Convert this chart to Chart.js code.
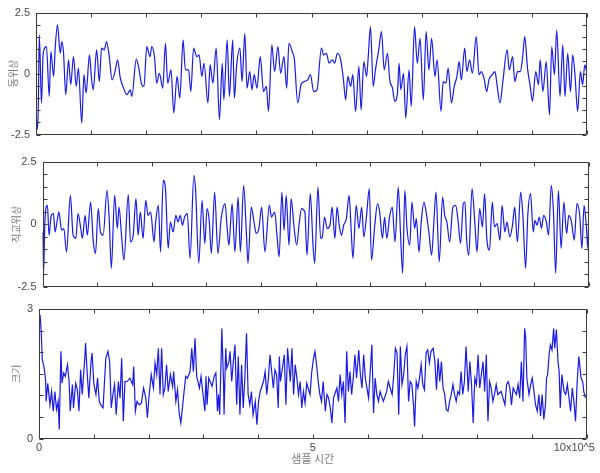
<!DOCTYPE html>
<html>
<head>
<meta charset="utf-8">
<script src="https://cdn.jsdelivr.net/npm/chart.js@4.4.0/dist/chart.umd.min.js"></script>
<style>
    html, body { margin: 0; padding: 0; background: #fff; }
    #wrap { position: relative; width: 600px; height: 473px; }
    #wrap canvas { position: absolute; left: 0; top: 0; }
</style>
</head>
<body>
<div id="wrap">
    <canvas id="inPhaseChart" width="600" height="473"></canvas>
    <canvas id="quadChart" width="600" height="473"></canvas>
    <canvas id="magChart" width="600" height="473"></canvas>
</div>
<script>
// x in units of 10^5 samples, y = signal value
const inPhase = [[0,-1.2],[0.02,-2.3],[0.04,-1.6],[0.06,1.58],[0.10,-1.21],[0.13,0.83],[0.19,1.10],[0.24,-0.94],[0.27,0.90],[0.32,-0.12],[0.35,1.10],[0.39,1.99],[0.44,0.83],[0.47,1.31],[0.50,0.83],[0.54,-0.87],[0.59,0.56],[0.63,-0.46],[0.68,0.69],[0.73,-0.53],[0.77,0.22],[0.83,-2.03],[0.87,-0.05],[0.91,-0.80],[0.97,0.76],[1.01,-0.26],[1.04,-0.67],[1.10,0.97],[1.15,-0.33],[1.19,1.04],[1.24,0.97],[1.28,1.31],[1.33,0.69],[1.38,-0.26],[1.44,0.15],[1.48,0.56],[1.53,-0.19],[1.59,-0.60],[1.65,-0.87],[1.71,-0.67],[1.74,-0.94],[1.82,0.59],[1.86,0.29],[1.92,-0.46],[1.96,-0.53],[2.01,1.10],[2.07,0.69],[2.10,1.10],[2.15,0.69],[2.19,-0.40],[2.24,0.01],[2.30,-0.60],[2.35,1.24],[2.39,-0.40],[2.45,0.15],[2.50,-1.62],[2.56,-0.12],[2.61,-1.01],[2.67,1.38],[2.71,0.15],[2.77,0.15],[2.81,-0.74],[2.86,1.04],[2.92,0.69],[2.96,0.76],[3.01,-0.12],[3.05,0.42],[3.12,-1.21],[3.16,0.35],[3.21,-0.40],[3.27,1.04],[3.33,-1.89],[3.38,0.42],[3.41,-1.08],[3.47,1.38],[3.51,-0.94],[3.57,1.38],[3.60,-1.01],[3.64,0.29],[3.70,1.04],[3.74,-0.33],[3.79,1.65],[3.83,-0.60],[3.88,0.08],[3.92,-0.67],[3.96,-0.05],[4.01,-0.60],[4.07,0.69],[4.13,-0.74],[4.18,-0.53],[4.22,-1.55],[4.28,1.17],[4.33,0.08],[4.39,1.10],[4.44,0.01],[4.50,0.69],[4.55,-0.60],[4.59,1.24],[4.65,0.90],[4.69,0.56],[4.75,-1.21],[4.81,-0.46],[4.87,-0.33],[4.93,-0.26],[4.98,-0.05],[5.04,-0.74],[5.10,-0.67],[5.18,1.04],[5.22,0.76],[5.27,0.83],[5.32,0.42],[5.38,0.56],[5.42,0.42],[5.47,0.83],[5.53,0.56],[5.58,-0.26],[5.62,-1.08],[5.66,-0.12],[5.71,-0.53],[5.75,-0.05],[5.80,-1.55],[5.86,0.29],[5.90,-1.49],[5.95,0.49],[6.00,-0.12],[6.03,0.69],[6.07,1.92],[6.12,-0.53],[6.16,0.15],[6.22,0.97],[6.27,1.72],[6.32,0.15],[6.38,0.83],[6.42,-0.26],[6.47,-0.60],[6.51,-1.14],[6.56,-0.80],[6.59,0.42],[6.62,-0.67],[6.67,0.01],[6.71,-1.83],[6.77,0.15],[6.81,-1.35],[6.87,1.92],[6.92,0.42],[6.97,1.44],[7.03,-1.08],[7.08,1.72],[7.13,0.15],[7.18,1.44],[7.24,-0.12],[7.28,0.56],[7.35,-1.55],[7.39,-0.33],[7.44,-0.40],[7.48,0.22],[7.54,-1.21],[7.59,-0.53],[7.64,-0.12],[7.68,0.49],[7.72,-0.26],[7.78,1.04],[7.82,0.08],[7.87,0.56],[7.92,0.01],[7.99,1.51],[8.04,-0.05],[8.08,0.08],[8.13,-0.19],[8.18,-0.74],[8.22,-0.26],[8.28,-0.05],[8.33,0.08],[8.36,-0.33],[8.42,-1.21],[8.47,-0.40],[8.55,0.97],[8.59,0.15],[8.65,0.69],[8.69,-0.33],[8.74,0.08],[8.79,0.08],[8.83,0.63],[8.87,1.51],[8.92,0.22],[8.97,-0.53],[9.01,-1.14],[9.07,0.08],[9.12,-0.46],[9.15,0.56],[9.20,-0.74],[9.26,0.49],[9.32,-1.69],[9.36,1.10],[9.41,-0.05],[9.45,1.78],[9.51,-0.94],[9.56,1.17],[9.60,-0.94],[9.65,0.83],[9.70,-0.74],[9.74,0.76],[9.78,0.01],[9.83,-1.55],[9.88,0.08],[9.92,-0.46],[9.96,0.35],[10.0,0.01]];

const quadrature = [[0,-0.31],[0.02,-1.97],[0.04,-0.17],[0.06,0.63],[0.09,0.76],[0.12,-0.44],[0.16,0.36],[0.20,0.43],[0.23,-0.31],[0.27,0.16],[0.30,0.49],[0.35,-0.24],[0.39,-0.17],[0.44,-1.11],[0.51,1.16],[0.56,-0.44],[0.61,-0.57],[0.65,0.43],[0.70,-0.17],[0.73,-0.57],[0.78,0.36],[0.82,-0.44],[0.88,0.89],[0.93,-0.71],[0.97,-1.17],[1.02,0.63],[1.06,-0.31],[1.11,-0.44],[1.18,1.36],[1.22,0.23],[1.26,-1.77],[1.32,1.16],[1.37,-0.17],[1.40,0.69],[1.45,-0.57],[1.49,-1.44],[1.57,1.19],[1.61,-0.71],[1.66,-0.44],[1.71,1.03],[1.75,-0.44],[1.79,0.49],[1.84,-0.57],[1.89,0.96],[1.93,0.36],[1.98,0.49],[2.04,-0.71],[2.07,0.09],[2.12,0.76],[2.16,-1.11],[2.21,1.76],[2.25,1.43],[2.30,-0.97],[2.34,0.09],[2.39,-0.31],[2.44,0.36],[2.48,0.09],[2.52,0.36],[2.56,-0.04],[2.60,0.29],[2.65,0.43],[2.70,-1.37],[2.77,1.96],[2.80,1.43],[2.86,-1.57],[2.92,0.96],[2.97,-0.77],[3.01,0.63],[3.05,0.16],[3.09,-1.17],[3.15,1.29],[3.21,-1.17],[3.27,0.23],[3.34,0.83],[3.38,-0.17],[3.41,-0.84],[3.47,0.83],[3.52,-1.11],[3.58,1.09],[3.62,-1.11],[3.68,1.56],[3.73,-0.31],[3.76,-1.57],[3.82,0.69],[3.87,0.09],[3.91,-0.37],[3.96,-0.17],[4.01,0.69],[4.07,-1.11],[4.15,0.76],[4.19,0.29],[4.25,0.49],[4.29,-0.44],[4.33,-1.31],[4.38,1.29],[4.42,-0.24],[4.46,1.16],[4.51,-0.84],[4.55,1.03],[4.60,-0.04],[4.65,-0.84],[4.70,0.09],[4.74,0.63],[4.80,0.49],[4.84,-1.24],[4.90,1.23],[4.95,-0.84],[4.98,-1.57],[5.04,1.49],[5.09,-0.57],[5.12,-0.51],[5.16,0.29],[5.21,-0.17],[5.26,-0.04],[5.30,0.69],[5.35,-0.57],[5.39,0.69],[5.43,-0.04],[5.47,-0.44],[5.51,-0.04],[5.56,0.23],[5.61,1.16],[5.65,-0.31],[5.68,-1.37],[5.74,0.76],[5.79,-0.17],[5.84,0.69],[5.88,-0.51],[5.93,0.36],[5.98,1.43],[6.02,-1.44],[6.08,-0.04],[6.13,0.83],[6.17,0.49],[6.22,-0.57],[6.26,0.29],[6.30,-0.57],[6.35,0.29],[6.40,0.69],[6.45,-0.71],[6.51,1.49],[6.55,-0.31],[6.59,-1.97],[6.63,1.36],[6.67,-0.17],[6.72,-0.84],[6.76,0.89],[6.81,-0.17],[6.84,0.23],[6.89,-1.11],[6.93,0.09],[6.98,0.89],[7.02,0.49],[7.07,-0.31],[7.12,-1.24],[7.16,0.03],[7.20,1.29],[7.26,-1.51],[7.32,1.09],[7.36,0.36],[7.40,0.09],[7.45,-0.71],[7.51,0.69],[7.56,0.76],[7.60,0.23],[7.65,-0.77],[7.70,0.83],[7.73,0.89],[7.76,-0.57],[7.80,-1.24],[7.86,1.43],[7.91,0.09],[7.95,-1.11],[8.00,0.63],[8.05,-0.11],[8.09,1.23],[8.13,-0.57],[8.18,-1.04],[8.23,0.89],[8.27,-0.11],[8.32,0.03],[8.37,-0.64],[8.41,0.76],[8.46,-0.31],[8.50,0.09],[8.55,-0.51],[8.60,-0.04],[8.64,0.69],[8.69,-0.71],[8.75,1.29],[8.79,0.36],[8.84,-1.77],[8.88,0.36],[8.93,1.23],[8.98,-0.31],[9.01,0.16],[9.05,-0.04],[9.09,0.29],[9.13,-0.17],[9.17,0.36],[9.22,0.09],[9.26,-0.44],[9.31,1.56],[9.35,0.49],[9.39,-1.97],[9.44,1.36],[9.49,-0.97],[9.54,0.89],[9.59,-0.37],[9.63,0.36],[9.68,0.09],[9.73,-0.64],[9.78,0.83],[9.83,0.36],[9.87,-0.97],[9.91,0.76],[9.95,-0.04],[9.98,-0.97],[10.0,0.76]];

const magnitude = [[0,2.63],[0.02,2.86],[0.04,2.48],[0.06,1.82],[0.09,1.67],[0.12,1.36],[0.13,0.86],[0.16,1.28],[0.20,0.78],[0.23,1.09],[0.26,0.63],[0.29,1.09],[0.32,0.67],[0.35,0.86],[0.37,0.21],[0.40,2.02],[0.42,1.28],[0.45,1.52],[0.48,1.44],[0.52,1.71],[0.55,1.32],[0.57,0.63],[0.61,1.25],[0.63,0.71],[0.67,1.28],[0.70,1.13],[0.73,0.63],[0.76,1.59],[0.79,1.02],[0.84,1.94],[0.85,2.21],[0.88,1.52],[0.91,0.94],[0.95,1.78],[0.97,1.98],[1.00,1.28],[1.04,1.02],[1.07,1.40],[1.10,0.86],[1.13,0.78],[1.17,0.71],[1.22,1.86],[1.26,2.02],[1.29,1.78],[1.32,0.71],[1.35,1.02],[1.38,1.25],[1.41,0.55],[1.45,1.32],[1.48,0.94],[1.51,1.86],[1.54,0.40],[1.57,1.32],[1.61,1.32],[1.66,1.40],[1.71,1.25],[1.73,1.67],[1.76,0.63],[1.79,0.86],[1.83,0.78],[1.87,0.82],[1.91,1.17],[1.95,0.94],[1.98,0.48],[2.01,0.98],[2.05,1.48],[2.09,1.17],[2.12,1.75],[2.15,1.48],[2.18,2.09],[2.21,1.02],[2.24,2.09],[2.27,1.02],[2.30,1.17],[2.33,1.71],[2.36,1.09],[2.40,1.48],[2.44,1.21],[2.46,1.55],[2.50,0.86],[2.53,1.13],[2.56,0.59],[2.59,0.36],[2.62,0.71],[2.65,1.09],[2.68,1.44],[2.71,1.40],[2.76,1.55],[2.79,2.09],[2.82,1.55],[2.85,2.32],[2.88,1.44],[2.93,1.17],[2.96,1.44],[2.99,1.09],[3.03,0.63],[3.05,1.44],[3.07,0.78],[3.10,1.40],[3.16,1.21],[3.20,1.44],[3.23,1.52],[3.26,0.63],[3.28,1.02],[3.30,0.55],[3.34,2.55],[3.37,1.32],[3.38,0.55],[3.41,2.09],[3.43,1.63],[3.47,1.78],[3.49,2.02],[3.52,1.32],[3.55,1.78],[3.58,2.17],[3.61,0.78],[3.64,1.90],[3.67,0.55],[3.70,1.71],[3.73,0.71],[3.76,1.40],[3.79,2.44],[3.82,1.02],[3.85,0.78],[3.88,1.09],[3.91,0.55],[3.95,0.86],[3.98,0.32],[4.01,0.86],[4.04,1.09],[4.10,1.32],[4.13,1.55],[4.16,1.02],[4.19,1.40],[4.22,1.94],[4.25,1.55],[4.28,1.17],[4.31,1.59],[4.34,1.48],[4.37,0.71],[4.39,1.90],[4.41,1.32],[4.45,1.67],[4.48,1.94],[4.51,0.78],[4.54,2.09],[4.56,1.78],[4.59,1.32],[4.62,2.09],[4.65,1.02],[4.68,1.71],[4.71,1.40],[4.74,1.02],[4.77,1.32],[4.80,0.71],[4.83,1.09],[4.86,0.82],[4.89,1.28],[4.95,1.02],[4.98,1.52],[5.01,1.82],[5.04,2.02],[5.07,1.71],[5.10,1.32],[5.13,1.02],[5.16,0.86],[5.19,1.32],[5.23,0.63],[5.26,1.02],[5.29,0.94],[5.32,0.71],[5.35,0.36],[5.38,0.94],[5.44,1.17],[5.47,0.86],[5.50,1.48],[5.53,1.02],[5.56,1.32],[5.59,0.36],[5.62,2.02],[5.65,1.09],[5.68,1.55],[5.71,1.02],[5.74,1.40],[5.77,1.94],[5.80,1.40],[5.84,2.05],[5.87,1.48],[5.90,1.17],[5.93,1.94],[5.96,1.40],[6.02,0.94],[6.05,1.55],[6.08,2.17],[6.11,0.59],[6.14,1.40],[6.17,1.02],[6.20,0.86],[6.23,1.09],[6.29,0.86],[6.35,1.09],[6.38,1.32],[6.45,1.02],[6.48,1.48],[6.51,2.09],[6.54,1.98],[6.57,0.55],[6.60,2.13],[6.63,1.25],[6.66,1.48],[6.69,1.94],[6.72,2.13],[6.75,0.86],[6.78,1.32],[6.81,1.25],[6.84,0.78],[6.86,0.28],[6.89,1.32],[6.92,1.17],[6.95,1.40],[6.98,1.71],[7.01,1.25],[7.04,1.13],[7.07,1.98],[7.10,2.05],[7.13,1.75],[7.16,2.02],[7.20,2.09],[7.23,1.78],[7.26,1.13],[7.29,1.86],[7.32,1.32],[7.35,1.78],[7.38,1.17],[7.41,1.02],[7.44,0.67],[7.47,0.63],[7.50,0.86],[7.53,1.02],[7.56,1.25],[7.59,1.02],[7.62,0.86],[7.65,1.09],[7.68,1.02],[7.71,1.55],[7.74,1.02],[7.77,1.32],[7.80,2.13],[7.84,1.09],[7.87,1.78],[7.90,1.25],[7.93,0.36],[7.96,1.40],[7.99,1.25],[8.02,1.94],[8.05,1.17],[8.08,1.48],[8.11,1.78],[8.14,1.09],[8.17,1.94],[8.20,0.40],[8.23,1.32],[8.26,1.17],[8.29,0.86],[8.32,1.02],[8.35,1.25],[8.38,1.02],[8.44,1.09],[8.51,0.78],[8.54,1.25],[8.57,1.32],[8.60,1.17],[8.63,0.78],[8.66,1.17],[8.69,1.09],[8.72,1.02],[8.75,1.25],[8.78,0.94],[8.81,1.78],[8.84,0.86],[8.87,2.55],[8.89,2.32],[8.91,1.40],[8.95,1.02],[8.98,1.25],[9.01,1.40],[9.04,1.09],[9.07,0.78],[9.10,0.63],[9.13,1.02],[9.16,0.52],[9.19,1.02],[9.22,0.44],[9.25,0.78],[9.27,1.40],[9.29,1.48],[9.32,1.98],[9.34,2.17],[9.37,2.05],[9.40,2.55],[9.42,2.09],[9.45,2.52],[9.48,1.78],[9.50,1.55],[9.52,0.71],[9.55,1.48],[9.59,1.09],[9.62,1.02],[9.65,1.25],[9.68,0.94],[9.71,0.63],[9.74,1.17],[9.77,0.86],[9.80,0.40],[9.83,1.32],[9.86,1.90],[9.90,1.40],[9.93,1.32],[9.95,1.09],[9.98,0.94]];

// axis labels
const xTickValues = [0, 5, 10];
const xTickLabels = ['0', '5', '10x10^5        '];
const xTitle = '샘플 시간';
const iqTicks = [-2.5, 0, 2.5];
const magTicks = [0, 3];

const lineColor = 'rgb(25, 25, 230)';
const textColor = '#4a4a4a';
const titleColor = '#7a7a7a';

// box round the plot with small inward ticks on all four sides
const framePlugin = {
    id: 'frame',
    afterDraw(chart, args, opts) {
        const { ctx, chartArea: a, scales: { x, y } } = chart;
        const L = Math.round(a.left) + 0.5, R = Math.round(a.right) - 0.5;
        const T = Math.round(a.top) + 0.5, B = Math.round(a.bottom) - 0.5;
        ctx.save();
        ctx.strokeStyle = '#3a3a3a';
        ctx.lineWidth = 1;
        ctx.beginPath();
        ctx.rect(L, T, R - L, B - T);
        for (let v = x.min; v <= x.max; v++) {
            const px = Math.round(x.getPixelForValue(v)) + 0.5;
            ctx.moveTo(px, T); ctx.lineTo(px, T + 4);
            ctx.moveTo(px, B); ctx.lineTo(px, B - 4);
        }
        for (let v = y.min; v <= y.max + 1e-9; v += opts.yStep) {
            const py = Math.round(y.getPixelForValue(v)) + 0.5;
            ctx.moveTo(L, py); ctx.lineTo(L + 4, py);
            ctx.moveTo(R, py); ctx.lineTo(R - 4, py);
        }
        ctx.stroke();
        ctx.restore();
    }
};

function renderPanel(id, points, cfg) {
    const ctx = document.getElementById(id).getContext('2d');
    return new Chart(ctx, {
        type: 'line',
        data: {
            datasets: [{
                data: points.map(p => ({ x: p[0], y: p[1] })),
                borderColor: lineColor,
                borderWidth: 1.2,
                pointRadius: 0,
                fill: false,
                tension: 0,
                cubicInterpolationMode: cfg.smooth ? 'monotone' : 'default'
            }]
        },
        options: {
            responsive: false,
            animation: false,
            events: [],
            layout: { padding: cfg.padding },
            plugins: {
                legend: { display: false },
                tooltip: { enabled: false },
                frame: { yStep: 0.5 }
            },
            scales: {
                x: {
                    type: 'linear',
                    min: 0,
                    max: 10,
                    display: cfg.showX,
                    grid: { display: false, drawTicks: false },
                    border: { display: false },
                    afterBuildTicks: s => { s.ticks = xTickValues.map(v => ({ value: v })); },
                    afterFit: s => { s.height = cfg.xHeight || 0; s.paddingLeft = 0; s.paddingRight = 0; },
                    ticks: {
                        autoSkip: false,
                        maxRotation: 0,
                        padding: 3,
                        color: textColor,
                        font: { family: 'Liberation Sans', size: 11 },
                        callback: v => xTickLabels[xTickValues.indexOf(v)]
                    },
                    title: {
                        display: cfg.showX,
                        text: xTitle,
                        color: titleColor,
                        font: { family: 'Noto Sans CJK KR', size: 11 },
                        padding: { top: 0, bottom: 8 }
                    }
                },
                y: {
                    min: cfg.min,
                    max: cfg.max,
                    grid: { display: false, drawTicks: false },
                    border: { display: false },
                    afterBuildTicks: s => { s.ticks = cfg.ticks.map(v => ({ value: v })); },
                    afterFit: s => { s.width = cfg.yWidth; s.paddingTop = 0; s.paddingBottom = 0; },
                    ticks: {
                        autoSkip: false,
                        padding: 6,
                        color: textColor,
                        font: { family: 'Liberation Sans', size: 11 },
                        callback: v => String(v)
                    },
                    title: {
                        display: true,
                        text: cfg.title,
                        color: titleColor,
                        font: { family: 'Noto Sans CJK KR', size: 10 },
                        padding: { top: cfg.titlePad, bottom: 0 }
                    }
                }
            }
        },
        plugins: [framePlugin]
    });
}

renderPanel('inPhaseChart', inPhase, {
    title: '동위상', min: -2.5, max: 2.5, ticks: iqTicks, smooth: true,
    yWidth: 36, titlePad: 7, showX: false,
    padding: { top: 12.5, right: 13, bottom: 338.5, left: 0 }
});
renderPanel('quadChart', quadrature, {
    title: '직교위상', min: -2.5, max: 2.5, ticks: iqTicks, smooth: true,
    yWidth: 42.5, titlePad: 10, showX: false,
    padding: { top: 162, right: 11, bottom: 186.5, left: 0 }
});
renderPanel('magChart', magnitude, {
    title: '크기', min: 0, max: 3, ticks: magTicks, smooth: false,
    yWidth: 39, titlePad: 10, showX: true, xHeight: 34.5,
    padding: { top: 309, right: 13.5, bottom: 0, left: 0 }
});
</script>
</body>
</html>
